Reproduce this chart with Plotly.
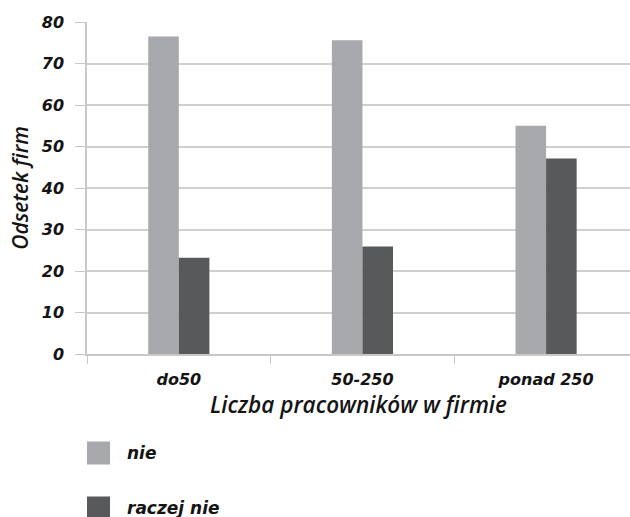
import plotly.graph_objects as go

# Firm size groups and share of firms per answer (%)
categories = ["do50", "50-250", "ponad 250"]
nie = [76.5, 75.6, 55.0]
raczej_nie = [23.2, 25.9, 47.1]
series_names = ["nie", "raczej nie"]
series_colors = ["#a8a9ad", "#58595b"]

y_ticks = [0, 10, 20, 30, 40, 50, 60, 70, 80]

FONT = "DejaVu Sans"
TITLE_FONT = "Open Sans"
TXT = "#141414"
W, H = 630, 517
L, T, B, R = 87, 22, 163, 0
plot_w = W - L - R
plot_h = H - T - B

fig = go.Figure()
for name, vals, col in zip(series_names, [nie, raczej_nie], series_colors):
    fig.add_trace(go.Bar(x=categories, y=vals, name=name, marker_color=col,
                         marker_line_width=0, showlegend=False))

fig.update_layout(
    width=W, height=H,
    margin=dict(l=L, r=R, t=T, b=B, pad=0),
    paper_bgcolor="white", plot_bgcolor="white",
    barmode="group", bargap=0.667, bargroupgap=0,
    font=dict(family=FONT, color=TXT),
)

tick_font = dict(family=FONT, size=16, style="italic", weight="bold", color=TXT)

fig.update_xaxes(
    type="category", range=[-0.5, 2.457],
    tickson="boundaries", ticks="outside", ticklen=8, tickcolor="#c8c8c8",
    showline=True, linecolor="#c8c8c8", linewidth=1.5,
    showgrid=False, ticklabelstandoff=10,
    tickfont=tick_font,
    title=dict(text="Liczba pracowników w firmie", standoff=6,
               font=dict(family=TITLE_FONT, size=22.5, style="italic", weight=600, color=TXT)),
)

fig.update_yaxes(
    range=[0, 80], tickvals=y_ticks,
    ticks="outside", ticklen=10, tickcolor="#c8c8c8",
    showline=True, linecolor="#c8c8c8", linewidth=1.5,
    showgrid=True, gridcolor="#d0d0d0", gridwidth=1.5,
    zeroline=False, ticklabelstandoff=8,
    tickfont=tick_font,
    title=dict(text="Odsetek firm", standoff=6,
               font=dict(family=TITLE_FONT, size=21, style="italic", weight=600, color=TXT)),
)

# Legend drawn below the plot: colour swatch plus label per series
legend_rows = [453, 508]
for name, col, cy in zip(series_names, series_colors, legend_rows):
    fig.add_shape(type="rect", xref="paper", yref="paper",
                  x0=(87 - L) / plot_w, x1=(110 - L) / plot_w,
                  y0=((H - B) - (cy + 11.5)) / plot_h,
                  y1=((H - B) - (cy - 11.5)) / plot_h,
                  fillcolor=col, line_width=0, layer="above")
    fig.add_annotation(xref="paper", yref="paper",
                       x=(125 - L) / plot_w, y=((H - B) - cy) / plot_h,
                       xanchor="left", yanchor="middle", showarrow=False,
                       text=name,
                       font=dict(family=FONT, size=17, style="italic", weight="bold", color=TXT))

fig.write_html("out.html")
